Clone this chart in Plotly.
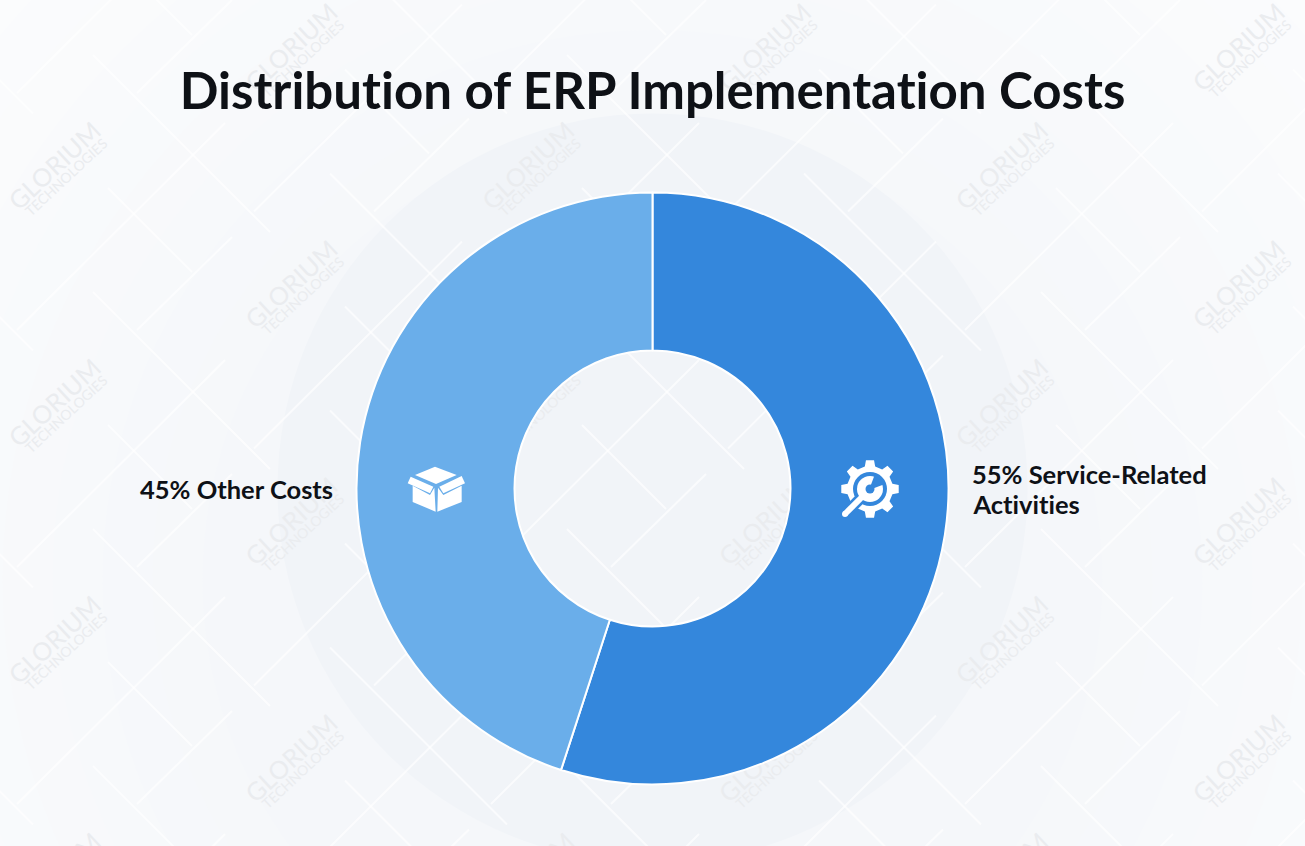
import math

import plotly.graph_objects as go

# Chart data
categories = ["Service-Related Activities", "Other Costs"]
shares = [55, 45]
slice_colors = ["#3487DC", "#6AAEEA"]
chart_title = "Distribution of ERP Implementation Costs"

WIDTH = 1305
HEIGHT = 846
CX, CY = 652.5, 488.5
R_OUT = 296
R_HOLE = 138
TITLE_FONT = "Lato"


def px(x):
    return x / WIDTH


def py(y):
    return 1 - y / HEIGHT


def circle(x, y, r, color, layer="below"):
    return dict(
        type="circle", xref="paper", yref="paper", layer=layer,
        x0=px(x - r), x1=px(x + r), y0=py(y + r), y1=py(y - r),
        fillcolor=color, line=dict(width=0),
    )


def polygon(points, color):
    path = "M " + " L ".join(f"{px(x):.5f},{py(y):.5f}" for x, y in points) + " Z"
    return dict(type="path", xref="paper", yref="paper", layer="above", path=path, fillcolor=color, line=dict(width=0))


def seg(x0, y0, x1, y1, color, width, layer="above"):
    return dict(
        type="line", xref="paper", yref="paper", layer=layer,
        x0=px(x0), y0=py(y0), x1=px(x1), y1=py(y1), line=dict(color=color, width=width),
    )


shapes = []

# Soft radial background, darkest behind the donut and towards the bottom
steps = 10
for i in range(steps):
    t = i / (steps - 1)
    r = 900 - 450 * t
    c = [round(a + (b - a) * t) for a, b in zip((251, 252, 253), (245, 247, 250))]
    shapes.append(circle(CX, 580, r, f"rgb({c[0]},{c[1]},{c[2]})"))
shapes.append(circle(CX, CY, 375, "#F1F4F8"))

# Repeating pattern of white diagonal lines
tile_lines = [
    (17, 330, 225, 123),
    (93, 55, 270, 232),
    (137, 330, 232, 237),
    (108, 188, 192, 272),
]
for col in range(-2, 7):
    for row in range(-2, 8):
        dx = 237 * col
        dy = 237 * row - 118.5 * col
        for x0, y0, x1, y1 in tile_lines:
            if -250 < y0 + dy < HEIGHT + 250:
                shapes.append(seg(x0 + dx, y0 + dy, x1 + dx, y1 + dy, "rgba(255,255,255,0.65)", 2, "below"))


# Watermark, kept as shape labels so the donut covers it
def watermark(x, y, text, size):
    half = 30
    return dict(
        type="line", xref="paper", yref="paper", layer="below",
        x0=px(x - half), x1=px(x + half), y0=py(y), y1=py(y), line=dict(width=0),
        label=dict(
            text=text, textangle=-43, textposition="middle", xanchor="center", yanchor="middle",
            font=dict(family="Lato", size=size, color="#EAECEF"),
        ),
    )


for col in range(6):
    for row in range(-1, 5):
        wx = 54 + 236.8 * col
        wy = 165 + 237 * row - 118.5 * (col % 2)
        if -60 < wy < HEIGHT + 60:
            shapes.append(watermark(wx, wy, "GLORIUM", 25))
            shapes.append(watermark(wx + 12, wy + 12, "TECHNOLOGIES", 14))

# Box icon
box_icon = [
    [(105, 105), (165, 80), (230, 105), (168, 132)],
    [(92, 110), (160, 140), (150, 160), (83, 130)],
    [(245, 108), (178, 140), (190, 160), (255, 130)],
    [(98, 137), (150, 165), (163, 143), (167, 215), (98, 186)],
    [(174, 143), (190, 165), (245, 137), (245, 186), (172, 215)],
]
for poly in box_icon:
    shapes.append(polygon([(380 + x / 3, 440 + y / 3) for x, y in poly], "white"))

# Gear and wrench icon
GX, GY = 870, 489
gear = []
for k in range(8):
    a = math.radians(k * 45 - 90)
    for off, rad in [(-13, 23), (-8, 29), (8, 29), (13, 23)]:
        b = a + math.radians(off)
        gear.append((GX + rad * math.cos(b), GY + rad * math.sin(b)))
shapes.append(polygon(gear, "white"))
shapes.append(seg(GX - 6, GY + 6, 844, 515, slice_colors[0], 11))
shapes.append(circle(GX, GY, 17, slice_colors[0], "above"))
shapes.append(circle(GX, GY, 13, "white", "above"))
shapes.append(polygon([(GX - 1, GY + 1), (GX + 5, GY - 15), (GX + 15, GY - 5)], slice_colors[0]))
shapes.append(circle(GX, GY, 4.5, slice_colors[0], "above"))
shapes.append(seg(GX - 6, GY + 6, 845, 514, "white", 6))
shapes.append(circle(845, 514, 3, "white", "above"))

fig = go.Figure(
    go.Pie(
        labels=categories,
        values=shares,
        hole=R_HOLE / R_OUT,
        sort=False,
        direction="clockwise",
        rotation=0,
        textinfo="none",
        hoverinfo="none",
        marker=dict(colors=slice_colors, line=dict(color="white", width=2)),
        domain=dict(x=[px(CX - R_OUT), px(CX + R_OUT)], y=[py(CY + R_OUT), py(CY - R_OUT)]),
    )
)

# Labels, the long one broken over two separate lines
label_font = dict(family=TITLE_FONT, size=25.5, color="#0E1116", weight=700)
first, second = categories[0].rsplit(" ", 1)
label_rows = [
    (f"{shares[1]}% {categories[1]}", 335, 489, "right"),
    (f"{shares[0]}% {first}", 970, 474, "left"),
    (second, 970, 504, "left"),
]
for text, x, y, anchor in label_rows:
    fig.add_annotation(
        text=text, x=px(x), y=py(y), xref="paper", yref="paper",
        xanchor=anchor, yanchor="middle", showarrow=False, font=label_font,
    )

fig.update_layout(
    width=WIDTH,
    height=HEIGHT,
    margin=dict(l=0, r=0, t=0, b=0),
    paper_bgcolor="#FBFCFD",
    plot_bgcolor="rgba(0,0,0,0)",
    showlegend=False,
    shapes=shapes,
    title=dict(
        text=chart_title, x=0.5, xref="paper", xanchor="center", y=py(91), yref="paper", yanchor="middle",
        font=dict(family=TITLE_FONT, size=51, color="#0E1116", weight=700),
    ),
)

# Drop the page margin and the ti ligature that Lato would draw
page_css = (
    "document.body.style.margin = '0';"
    "var s = document.createElement('style');"
    "s.textContent = 'svg text { font-variant-ligatures: none !important;"
    " font-feature-settings: \"liga\" 0, \"clig\" 0 !important; }';"
    "document.head.appendChild(s);"
)
fig.write_html("out.html", post_script=page_css, config={"displayModeBar": False})
